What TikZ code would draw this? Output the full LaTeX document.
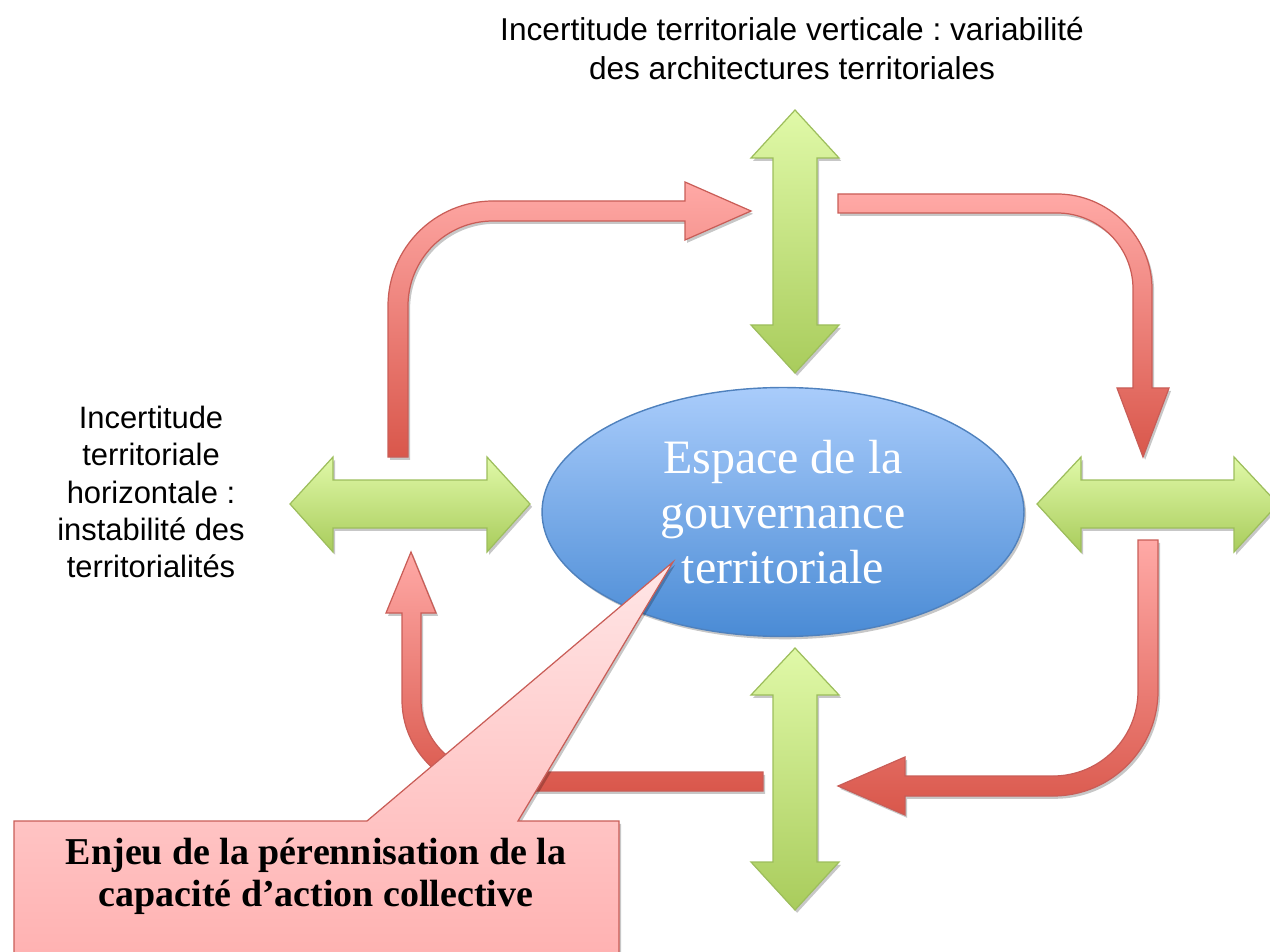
\documentclass[tikz,border=0pt]{standalone}
\usepackage{fontspec}
\setmainfont{Liberation Serif}
\setsansfont{Liberation Sans}
\usetikzlibrary{shapes.geometric}
\usetikzlibrary{shadows}
\frenchspacing
\definecolor{rougebord}{HTML}{C95D57}
\definecolor{rougeclair}{HTML}{FFA9A6}
\definecolor{rougefonce}{HTML}{D9574B}
\definecolor{vertbord}{HTML}{9DBE5C}
\definecolor{vertclair}{HTML}{E0F9A8}
\definecolor{vertfonce}{HTML}{A9CC5C}
\definecolor{bleubord}{HTML}{4F81BD}
\definecolor{bleuclair}{HTML}{A9CCFB}
\definecolor{bleufonce}{HTML}{4A8BD5}
\definecolor{bulleclair}{HTML}{FFE6E6}
\definecolor{bullefonce}{HTML}{FFADAD}
\tikzset{ombre/.style={drop shadow={shadow xshift=1.2pt, shadow yshift=-1.6pt, opacity=0.22, fill=black}}}
\tikzset{flecherouge/.style={draw=rougebord, line width=0.7pt, top color=rougeclair, bottom color=rougefonce, ombre}}
\tikzset{flecheverte/.style={draw=vertbord, line width=0.7pt, top color=vertclair, bottom color=vertfonce, ombre}}

\begin{document}
\begin{tikzpicture}[x=0.02cm, y=-0.02cm]
    \useasboundingbox (0,0) rectangle (1270,952);
    \clip (0,0) rectangle (1270,952);

    % textes
    \node[align=center, font=\sffamily\fontsize{18}{22.2}\selectfont] (vertical) at (792,49)
        {Incertitude territoriale verticale : variabilit\'e\\des architectures territoriales};
    \node[align=center, font=\sffamily\fontsize{17.6}{21.3}\selectfont] (horizontal) at (151,492)
        {Incertitude\\territoriale\\horizontale :\\instabilit\'e des\\territorialit\'es};

    % doubles fleches vertes
    \draw[flecheverte] (795,110) -- (839,158) -- (817,158) -- (817,325) -- (839,325) -- (795,373)
        -- (751,325) -- (773,325) -- (773,158) -- (751,158) -- cycle;
    \draw[flecheverte] (795,648) -- (839,695) -- (817,695) -- (817,862) -- (839,862) -- (795,910)
        -- (751,862) -- (773,862) -- (773,695) -- (751,695) -- cycle;
    \draw[flecheverte] (290,504) -- (333,457) -- (333,480) -- (487,480) -- (487,457) -- (530,504)
        -- (487,552) -- (487,528) -- (333,528) -- (333,552) -- cycle;
    \draw[flecheverte] (1037,504) -- (1081,457) -- (1081,480) -- (1234,480) -- (1234,457) -- (1278,504)
        -- (1234,552) -- (1234,528) -- (1081,528) -- (1081,552) -- cycle;

    % fleches rouges
    \draw[flecherouge] (388,457) -- (388,306) .. controls (388,248) and (435,201) .. (493,201)
        -- (685,201) -- (685,182) -- (751,211) -- (685,240) -- (685,221) -- (493,221)
        .. controls (446,221) and (408,259) .. (408,306) -- (408,457) -- cycle;
    \draw[flecherouge] (838,194) -- (1057,194) .. controls (1109,194) and (1152,237) .. (1152,289)
        -- (1152,388) -- (1169,388) -- (1143,457) -- (1117,388) -- (1133,388) -- (1133,289)
        .. controls (1133,247) and (1099,213) .. (1057,213) -- (838,213) -- cycle;
    \draw[flecherouge] (1138,540) -- (1158,540) -- (1158,691) .. controls (1158,749) and (1111,796) .. (1053,796)
        -- (905,796) -- (905,815) -- (838,786) -- (905,757) -- (905,776) -- (1053,776)
        .. controls (1100,776) and (1138,738) .. (1138,691) -- cycle;
    \draw[flecherouge] (763,772) -- (763,791) -- (493,791) .. controls (443,791) and (402,750) .. (402,700)
        -- (402,613) -- (386,613) -- (411,552) -- (436,613) -- (421,613) -- (421,700)
        .. controls (421,740) and (453,772) .. (493,772) -- cycle;

    % ellipse centrale
    \node[ellipse, draw=bleubord, line width=0.8pt, top color=bleuclair, bottom color=bleufonce, ombre,
        minimum width=9.64cm, minimum height=4.98cm, inner sep=0pt, align=center, text=white,
        font=\fontsize{27.3}{31.3}\selectfont] (espace) at (783,512)
        {Espace de la\\gouvernance\\territoriale};

    % bulle
    \draw[draw=rougebord, line width=0.7pt, top color=bulleclair, bottom color=bullefonce, ombre]
        (14,821) -- (367,821) -- (673,562) -- (518,821) -- (619,821) -- (619,990) -- (14,990) -- cycle;
    \node[align=center, font=\bfseries\fontsize{21.6}{23.9}\selectfont] (enjeu) at (316,876)
        {Enjeu de la p\'erennisation de la\\capacit\'e d'action collective};

\end{tikzpicture}
\end{document}
